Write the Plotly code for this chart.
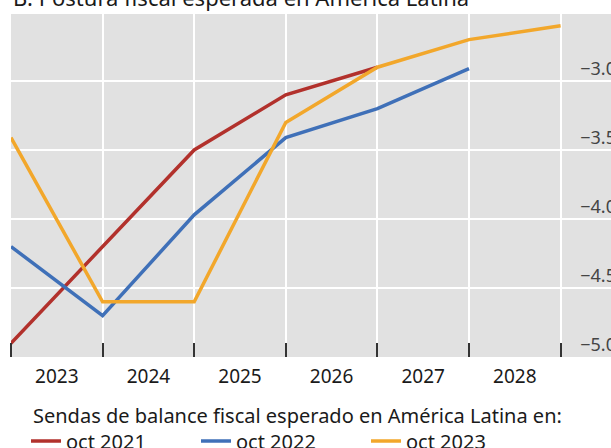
import plotly.graph_objects as go

# Year-end points (plotted at the boundary after each year label)
years_2021 = [2022, 2023, 2024, 2025, 2026]
oct_2021 = [-4.90, -4.20, -3.50, -3.10, -2.90]

years_2022 = [2022, 2023, 2024, 2025, 2026, 2027]
oct_2022 = [-4.20, -4.70, -3.97, -3.41, -3.20, -2.91]

years_2023 = [2022, 2023, 2024, 2025, 2026, 2027, 2028]
oct_2023 = [-3.41, -4.60, -4.60, -3.30, -2.90, -2.70, -2.60]

year_labels = [2023, 2024, 2025, 2026, 2027, 2028]
y_ticks = [-5.0, -4.5, -4.0, -3.5, -3.0]

FONT = "Noto Sans"
RED = "#b2312c"
BLUE = "#3f70b8"
YELLOW = "#f2a72b"

# plot area in pixels
PL, PR, PT, PB = 11, 611, 14, 357


def end_of_year(years):
    return [y + 0.5 for y in years]


def px_to_paper(px, py):
    return (px - PL) / (PR - PL), (PB - py) / (PB - PT)


fig = go.Figure()
for name, xs, ys, col in [
    ("oct 2021", years_2021, oct_2021, RED),
    ("oct 2022", years_2022, oct_2022, BLUE),
    ("oct 2023", years_2023, oct_2023, YELLOW),
]:
    fig.add_trace(go.Scatter(
        x=end_of_year(xs), y=ys, mode="lines", name=name,
        line=dict(color=col, width=3.5),
    ))

leg_x, leg_y = px_to_paper(31, 415)

fig.update_layout(
    width=611, height=448,
    margin=dict(l=PL, r=611 - PR, t=PT, b=448 - PB, autoexpand=False),
    paper_bgcolor="white",
    plot_bgcolor="#e1e1e1",
    font=dict(family=FONT, size=18, color="#1a1a1a"),
    showlegend=True,
    legend=dict(
        orientation="h",
        xref="container", x=26 / 611, xanchor="left",
        yref="container", y=1 - 441 / 448, yanchor="middle",
        font=dict(size=20),
        bgcolor="rgba(0,0,0,0)",
        entrywidth=125, entrywidthmode="pixels",
        itemwidth=30,
    ),
    annotations=[
        dict(
            text="B. Postura fiscal esperada en América Latina",
            xref="paper", yref="paper", x=0.0, y=1.0,
            xanchor="left", yanchor="bottom", yshift=0,
            showarrow=False, font=dict(size=22),
        ),
        dict(
            text="Sendas de balance fiscal esperado en América Latina en:",
            xref="paper", yref="paper", x=leg_x, y=leg_y,
            xanchor="left", yanchor="middle",
            showarrow=False, font=dict(size=20),
        ),
    ],
)

fig.update_xaxes(
    range=[2022.5, 2022.5 + 600 / 91.6],
    automargin=False,
    tickmode="array", tickvals=year_labels, ticktext=[str(y) for y in year_labels],
    ticks="", ticklabelstandoff=6,
    showgrid=False, zeroline=False, showline=False,
    tickfont=dict(size=19),
    minor=dict(
        tickmode="array", tickvals=end_of_year([2022] + year_labels),
        ticks="inside", ticklen=14, tickwidth=1.5, tickcolor="#333333",
        showgrid=True, gridcolor="white", gridwidth=2,
    ),
)

fig.update_yaxes(
    range=[-5.0, -3.0 + 67 / 138],
    automargin=False,
    side="right",
    tickmode="array", tickvals=y_ticks, tickformat=".1f",
    ticks="", ticklabelposition="inside top", ticklabelstandoff=-8,
    showgrid=True, gridcolor="white", gridwidth=2,
    zeroline=False, showline=False,
    tickfont=dict(size=18),
)

fig.write_html("out.html")
